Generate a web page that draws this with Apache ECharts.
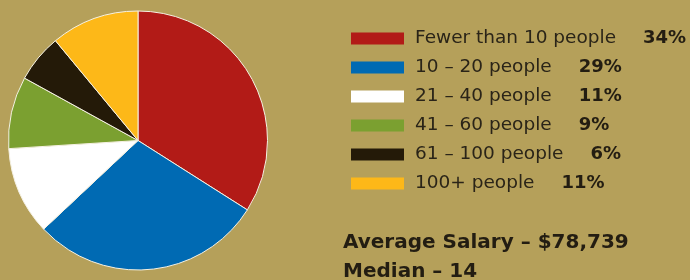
<!DOCTYPE html>
<html>
<head>
<meta charset="utf-8">
<script src="https://cdn.jsdelivr.net/npm/echarts@6/dist/echarts.min.js"></script>
<style>
  html, body { margin: 0; padding: 0; background: #b5a05a; }
  #main { width: 690px; height: 280px; }
</style>
</head>
<body>
<div id="main"></div>
<script>
// 公司规模分组
var groups = ['Fewer than 10 people', '10 – 20 people', '21 – 40 people', '41 – 60 people', '61 – 100 people', '100+ people'];
// 百分比
var shares = [34, 29, 11, 9, 6, 11];
// 颜色
var colors = ['#b21b17', '#006ab3', '#ffffff', '#7ba030', '#241a08', '#fdb818'];
// 底部说明
var notes = ['Average Salary – $78,739', 'Median – 14'];

var chart = echarts.init(document.getElementById('main'));

var seriesData = groups.map(function (name, i) {
    return { name: name, value: shares[i], itemStyle: { color: colors[i] } };
});

chart.setOption({
    animation: false,
    backgroundColor: '#b5a05a',
    title: {
        text: notes.join('\n'),
        left: 338,
        top: 224,
        textStyle: {
            fontFamily: 'DejaVu Sans',
            fontWeight: 'bold',
            fontSize: 20,
            lineHeight: 28.5,
            color: '#231d12'
        }
    },
    legend: {
        orient: 'vertical',
        left: 346,
        top: 24,
        itemWidth: 53,
        itemHeight: 12,
        itemGap: 10,
        icon: 'rect',
        selectedMode: false,
        itemStyle: { borderWidth: 0 },
        formatter: function (name) {
            var i = groups.indexOf(name);
            return '{n|' + name + '}{p|' + shares[i] + '%}';
        },
        textStyle: {
            rich: {
                n: {
                    fontFamily: 'DejaVu Sans',
                    fontSize: 18.5,
                    color: '#2a2418',
                    lineHeight: 22,
                    padding: [0, 0, 0, 6]
                },
                p: {
                    fontFamily: 'DejaVu Sans',
                    fontWeight: 'bold',
                    fontSize: 18,
                    color: '#231d12',
                    lineHeight: 22,
                    padding: [0, 0, 0, 27]
                }
            }
        }
    },
    series: [{
        type: 'pie',
        center: [138, 140.5],
        radius: 129.5,
        startAngle: 90,
        clockwise: true,
        label: { show: false },
        labelLine: { show: false },
        emphasis: { disabled: true },
        itemStyle: { borderColor: '#f5f1e3', borderWidth: 1 },
        data: seriesData
    }]
});
</script>
</body>
</html>
